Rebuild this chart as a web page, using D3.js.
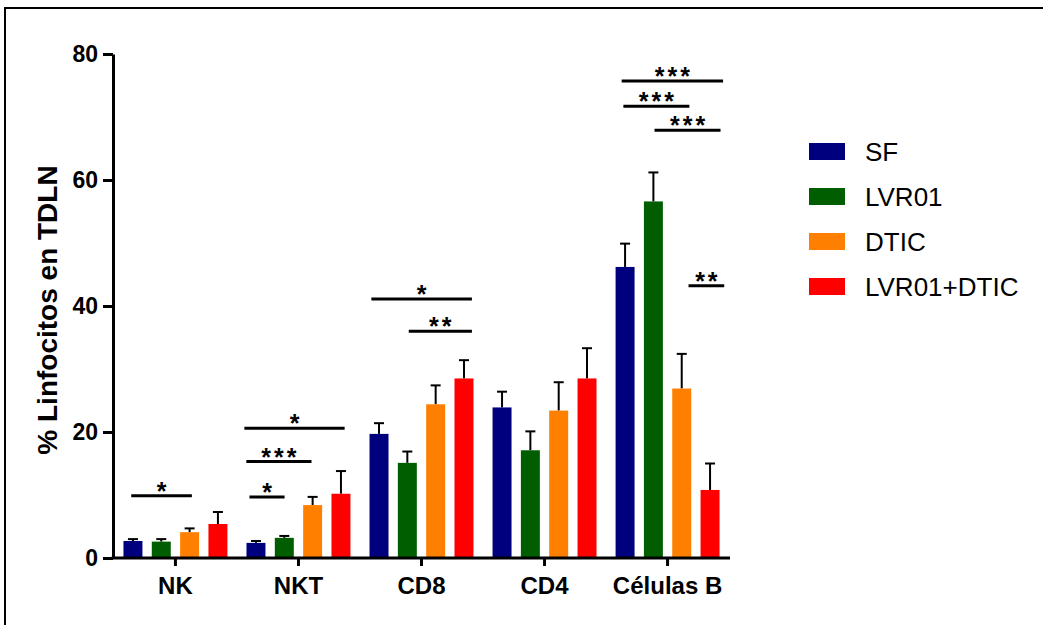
<!DOCTYPE html>
<html>
<head>
<meta charset="utf-8">
<script src="https://cdn.jsdelivr.net/npm/d3@7"></script>
<style>
  html, body { margin: 0; padding: 0; background: #ffffff; }
  svg { display: block; }
</style>
</head>
<body>
<svg id="chart" width="1043" height="625"></svg>
<script>
// ---- data ----
const categories = ["NK", "NKT", "CD8", "CD4", "Células B"];
const series = ["SF", "LVR01", "DTIC", "LVR01+DTIC"];
const colors = ["#00007f", "#005e00", "#ff8000", "#ff0000"];
const valSF   = [2.7, 2.4, 19.7, 23.9, 46.2];
const valLVR  = [2.6, 3.2, 15.1, 17.1, 56.6];
const valDTIC = [4.1, 8.4, 24.4, 23.4, 26.9];
const valComb = [5.4, 10.2, 28.5, 28.5, 10.8];
const errSF   = [0.3, 0.3, 1.7, 2.5, 3.7];
const errLVR  = [0.4, 0.3, 1.8, 3.0, 4.6];
const errDTIC = [0.6, 1.3, 3.0, 4.5, 5.5];
const errComb = [1.9, 3.6, 2.9, 4.8, 4.2];
const yTicks = [0, 20, 40, 60, 80];
const yTitle = "% Linfocitos en TDLN";
// significance: [category index, from bar position, to bar position, y value, label]
const sigCat   = [0, 1, 1, 1, 2, 2, 4, 4, 4, 4];
const sigFrom  = [-0.06, -0.23, -0.34, -0.41, -0.27, 1.05, -0.12, -0.06, 1.04, 2.24];
const sigTo    = [2.08, 1.01, 1.96, 3.13, 3.28, 3.28, 3.46, 2.27, 3.37, 3.5];
const sigY     = [9.9, 9.7, 15.3, 20.6, 41.1, 36.0, 75.7, 71.7, 67.9, 43.2];
const sigLabel = ["*", "*", "***", "*", "*", "**", "***", "***", "***", "**"];

const values = [valSF, valLVR, valDTIC, valComb];
const errors = [errSF, errLVR, errDTIC, errComb];

// ---- layout ----
const svg = d3.select("#chart");
const FONT = "'Liberation Sans', Arial, Helvetica, sans-serif";

svg.append("rect").attr("x", 0).attr("y", 0).attr("width", 1043).attr("height", 625).attr("fill", "#ffffff");
// frame (clipped by viewport at right and bottom)
svg.append("rect").attr("x", 5).attr("y", 8).attr("width", 1200).attr("height", 800)
  .attr("fill", "none").attr("stroke", "#000").attr("stroke-width", 2);

const axisX = 113, axisRight = 730, y0px = 558, yTop = 54;

const y = d3.scaleLinear().domain([0, 80]).range([y0px, yTop]);
const x0 = d3.scaleBand().domain(categories).range([axisX, axisRight]).paddingInner(0.155).paddingOuter(0.085);
const x1 = d3.scaleBand().domain(series).range([0, x0.bandwidth()]).paddingInner(0.33).paddingOuter(0);
const bw = x1.bandwidth();
const barPos = d3.scaleLinear().domain([0, 3]).range([x1(series[0]) + bw / 2, x1(series[3]) + bw / 2]);

// bars
const groups = svg.append("g").selectAll("g").data(categories).join("g")
  .attr("transform", d => `translate(${x0(d)},0)`);

categories.forEach((c, ci) => {
  const g = groups.filter(d => d === c);
  series.forEach((s, si) => {
    const v = values[si][ci], e = errors[si][ci];
    const cx = x1(s) + bw / 2;
    // error bar (upper only)
    g.append("line").attr("x1", cx).attr("x2", cx).attr("y1", y(v)).attr("y2", y(v + e))
      .attr("stroke", "#000").attr("stroke-width", 2);
    g.append("line").attr("x1", cx - 5).attr("x2", cx + 5).attr("y1", y(v + e)).attr("y2", y(v + e))
      .attr("stroke", "#000").attr("stroke-width", 2);
    g.append("rect").attr("x", x1(s)).attr("width", bw)
      .attr("y", y(v)).attr("height", y(0) - y(v)).attr("fill", colors[si]);
  });
});

// axes
const yAxis = svg.append("g").attr("transform", `translate(${axisX},0)`)
  .call(d3.axisLeft(y).tickValues(yTicks).tickSize(10).tickSizeOuter(0).tickPadding(5));
yAxis.selectAll("path, line").attr("stroke", "#000").attr("stroke-width", 3);
yAxis.selectAll("text").attr("font-family", FONT).attr("font-size", 23).attr("font-weight", "bold").attr("fill", "#000");

const xAxis = svg.append("g").attr("transform", `translate(0,${y0px})`)
  .call(d3.axisBottom(x0).tickSize(8).tickSizeOuter(0).tickPadding(11));
xAxis.select("path").attr("d", `M${axisX - 1.5},0H${axisRight}`);
xAxis.selectAll("path, line").attr("stroke", "#000").attr("stroke-width", 3);
xAxis.selectAll("text").attr("font-family", FONT).attr("font-size", 24).attr("font-weight", "bold").attr("fill", "#000");

// y title
svg.append("text")
  .attr("transform", `translate(57,${(y0px + yTop) / 2 + 4}) rotate(-90)`)
  .attr("text-anchor", "middle")
  .attr("font-family", FONT).attr("font-size", 28).attr("font-weight", "bold").attr("fill", "#000")
  .text(yTitle);

// significance bars
const sig = svg.append("g");
sigCat.forEach((ci, i) => {
  const gx = x0(categories[ci]);
  const xa = gx + barPos(sigFrom[i]), xb = gx + barPos(sigTo[i]);
  sig.append("line").attr("x1", xa).attr("x2", xb).attr("y1", y(sigY[i])).attr("y2", y(sigY[i]))
    .attr("stroke", "#000").attr("stroke-width", 3);
  sig.append("text").attr("x", (xa + xb) / 2 + 1.5).attr("y", y(sigY[i]) + 4)
    .attr("text-anchor", "middle")
    .attr("letter-spacing", 3)
    .attr("font-family", FONT).attr("font-size", 25).attr("font-weight", "bold").attr("fill", "#000")
    .text(sigLabel[i]);
});

// legend
const legend = svg.append("g").attr("transform", "translate(809,143)");
series.forEach((s, i) => {
  legend.append("rect").attr("x", 0).attr("y", i * 45).attr("width", 36).attr("height", 17).attr("fill", colors[i]);
  legend.append("text").attr("x", 56).attr("y", i * 45 + 18)
    .attr("font-family", FONT).attr("font-size", 26).attr("fill", "#000").text(s);
});
</script>
</body>
</html>
